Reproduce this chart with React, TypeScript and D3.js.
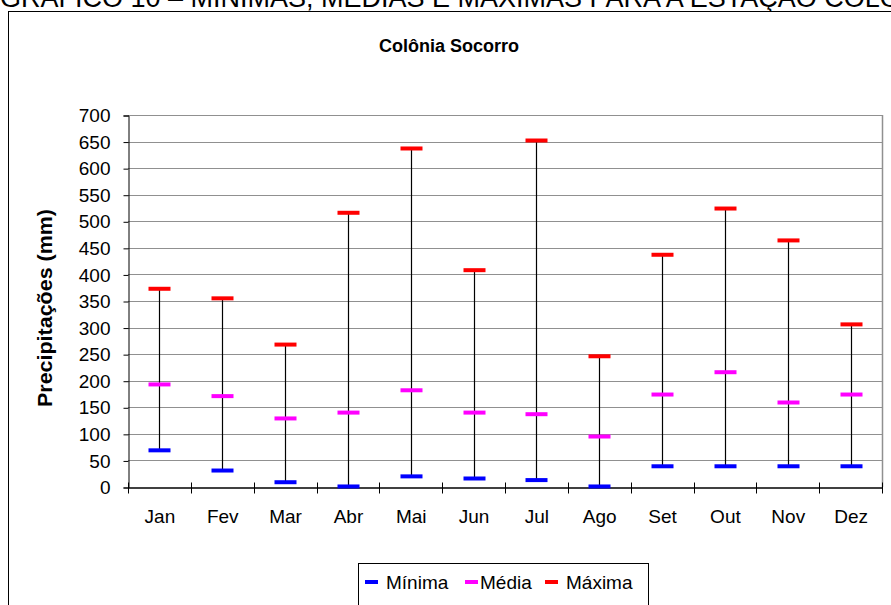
import React, { useRef, useEffect } from 'react';
import * as d3 from 'd3';

const months = ['Jan', 'Fev', 'Mar', 'Abr', 'Mai', 'Jun', 'Jul', 'Ago', 'Set', 'Out', 'Nov', 'Dez'];
const minima = [69, 31, 9, 1, 20, 16, 13, 1, 39, 39, 39, 39];
const media = [193, 171, 129, 140, 182, 140, 137, 95, 174, 216, 159, 174];
const maxima = [373, 355, 268, 516, 637, 408, 652, 246, 437, 524, 464, 306];
const yTicks = d3.range(0, 701, 50);

const series = [
    { name: 'Mínima', values: minima, color: '#0000FF' },
    { name: 'Média', values: media, color: '#FF00FF' },
    { name: 'Máxima', values: maxima, color: '#FF0000' },
];

const font = 'Arial, "Liberation Sans", sans-serif';

const drawChart = (svg: d3.Selection<SVGSVGElement, unknown, null, undefined>): void => {
    svg.selectAll('*').remove();

    const plot = { left: 128, right: 882, top: 115, bottom: 487 };

    const x = d3.scaleBand()
        .domain(months)
        .range([plot.left, plot.right]);

    const y = d3.scaleLinear()
        .domain([0, 700])
        .range([plot.bottom, plot.top]);

    // page heading, cut off at the top like the scanned page
    svg.append('text')
        .attr('x', 0)
        .attr('y', 7)
        .attr('font-family', font)
        .attr('font-size', 27)
        .attr('fill', '#000')
        .text('GRÁFICO 10 – MÍNIMAS, MÉDIAS E MÁXIMAS PARA A ESTAÇÃO COLÔNIA SOCORRO');

    // chart frame
    svg.append('rect')
        .attr('x', 8.5)
        .attr('y', 11.5)
        .attr('width', 900)
        .attr('height', 620)
        .attr('fill', '#fff')
        .attr('stroke', '#000')
        .attr('stroke-width', 1);

    svg.append('text')
        .attr('x', 449)
        .attr('y', 52)
        .attr('text-anchor', 'middle')
        .attr('font-family', font)
        .attr('font-weight', 'bold')
        .attr('font-size', 18)
        .text('Colônia Socorro');

    // y axis title
    svg.append('text')
        .attr('transform', 'translate(52,308) rotate(-90)')
        .attr('text-anchor', 'middle')
        .attr('font-family', font)
        .attr('font-weight', 'bold')
        .attr('font-size', 20)
        .attr('textLength', 198)
        .attr('lengthAdjust', 'spacingAndGlyphs')
        .text('Precipitações (mm)');

    // gridlines
    svg.append('g')
        .selectAll('line')
        .data(yTicks.filter(d => d > 0))
        .enter().append('line')
        .attr('x1', plot.left)
        .attr('x2', plot.right)
        .attr('y1', d => Math.round(y(d)) + 0.5)
        .attr('y2', d => Math.round(y(d)) + 0.5)
        .attr('stroke', '#909090')
        .attr('stroke-width', 1);

    // right border of plot
    svg.append('line')
        .attr('x1', plot.right + 0.5)
        .attr('x2', plot.right + 0.5)
        .attr('y1', plot.top)
        .attr('y2', plot.bottom)
        .attr('stroke', '#909090')
        .attr('stroke-width', 1.5);

    // y axis
    const yAxis = svg.append('g')
        .attr('transform', `translate(${plot.left + 0.5},0.5)`)
        .call(d3.axisLeft(y).tickValues(yTicks).tickSize(5).tickPadding(13));
    yAxis.select('.domain').attr('stroke', '#000');
    yAxis.selectAll('.tick line').attr('stroke', '#000');
    yAxis.selectAll('.tick text')
        .attr('font-family', font)
        .attr('font-size', 19)
        .attr('fill', '#000');

    // x axis
    const xAxis = svg.append('g')
        .attr('transform', `translate(0.5,${plot.bottom + 0.5})`)
        .call(d3.axisBottom(x).tickSize(0).tickPadding(22));
    xAxis.select('.domain').attr('stroke', '#000').attr('stroke-width', 1.5);
    xAxis.selectAll('.tick text')
        .attr('font-family', font)
        .attr('font-size', 19)
        .attr('fill', '#000');
    xAxis.append('g')
        .selectAll('line')
        .data(d3.range(months.length + 1))
        .enter().append('line')
        .attr('x1', i => Math.round(plot.left + i * x.step()))
        .attr('x2', i => Math.round(plot.left + i * x.step()))
        .attr('y1', -5)
        .attr('y2', 6)
        .attr('stroke', '#000');

    // high-low lines
    const cx = (m: string) => Math.round(x(m)! + x.bandwidth() / 2) + 0.5;
    svg.append('g')
        .selectAll('line')
        .data(months)
        .enter().append('line')
        .attr('x1', cx)
        .attr('x2', cx)
        .attr('y1', (m, i) => y(minima[i]))
        .attr('y2', (m, i) => y(maxima[i]))
        .attr('stroke', '#000')
        .attr('stroke-width', 1.2);

    // markers
    series.forEach(s => {
        svg.append('g')
            .selectAll('rect')
            .data(months)
            .enter().append('rect')
            .attr('x', m => cx(m) - 11)
            .attr('y', (m, i) => y(s.values[i]) - 2)
            .attr('width', 22)
            .attr('height', 4)
            .attr('fill', s.color);
    });

    // legend
    const legend = svg.append('g');
    legend.append('rect')
        .attr('x', 358.5)
        .attr('y', 563.5)
        .attr('width', 290)
        .attr('height', 60)
        .attr('fill', '#fff')
        .attr('stroke', '#000');
    const items = [
        { x: 365, tx: 386 },
        { x: 465, tx: 480 },
        { x: 545, tx: 566 },
    ];
    series.forEach((s, i) => {
        legend.append('rect')
            .attr('x', items[i].x)
            .attr('y', 580)
            .attr('width', 13)
            .attr('height', 4)
            .attr('fill', s.color);
        legend.append('text')
            .attr('x', items[i].tx)
            .attr('y', 589)
            .attr('font-family', font)
            .attr('font-size', 19)
            .text(s.name);
    });
};

const App: React.FC = () => {
    const ref = useRef<SVGSVGElement>(null);

    useEffect(() => {
        if (ref.current) {
            drawChart(d3.select(ref.current));
        }
    }, []);

    return (
        <svg
            ref={ref}
            width={891}
            height={605}
            style={{ position: 'absolute', left: 0, top: 0, background: '#fff' }}
        />
    );
};

export default App;
